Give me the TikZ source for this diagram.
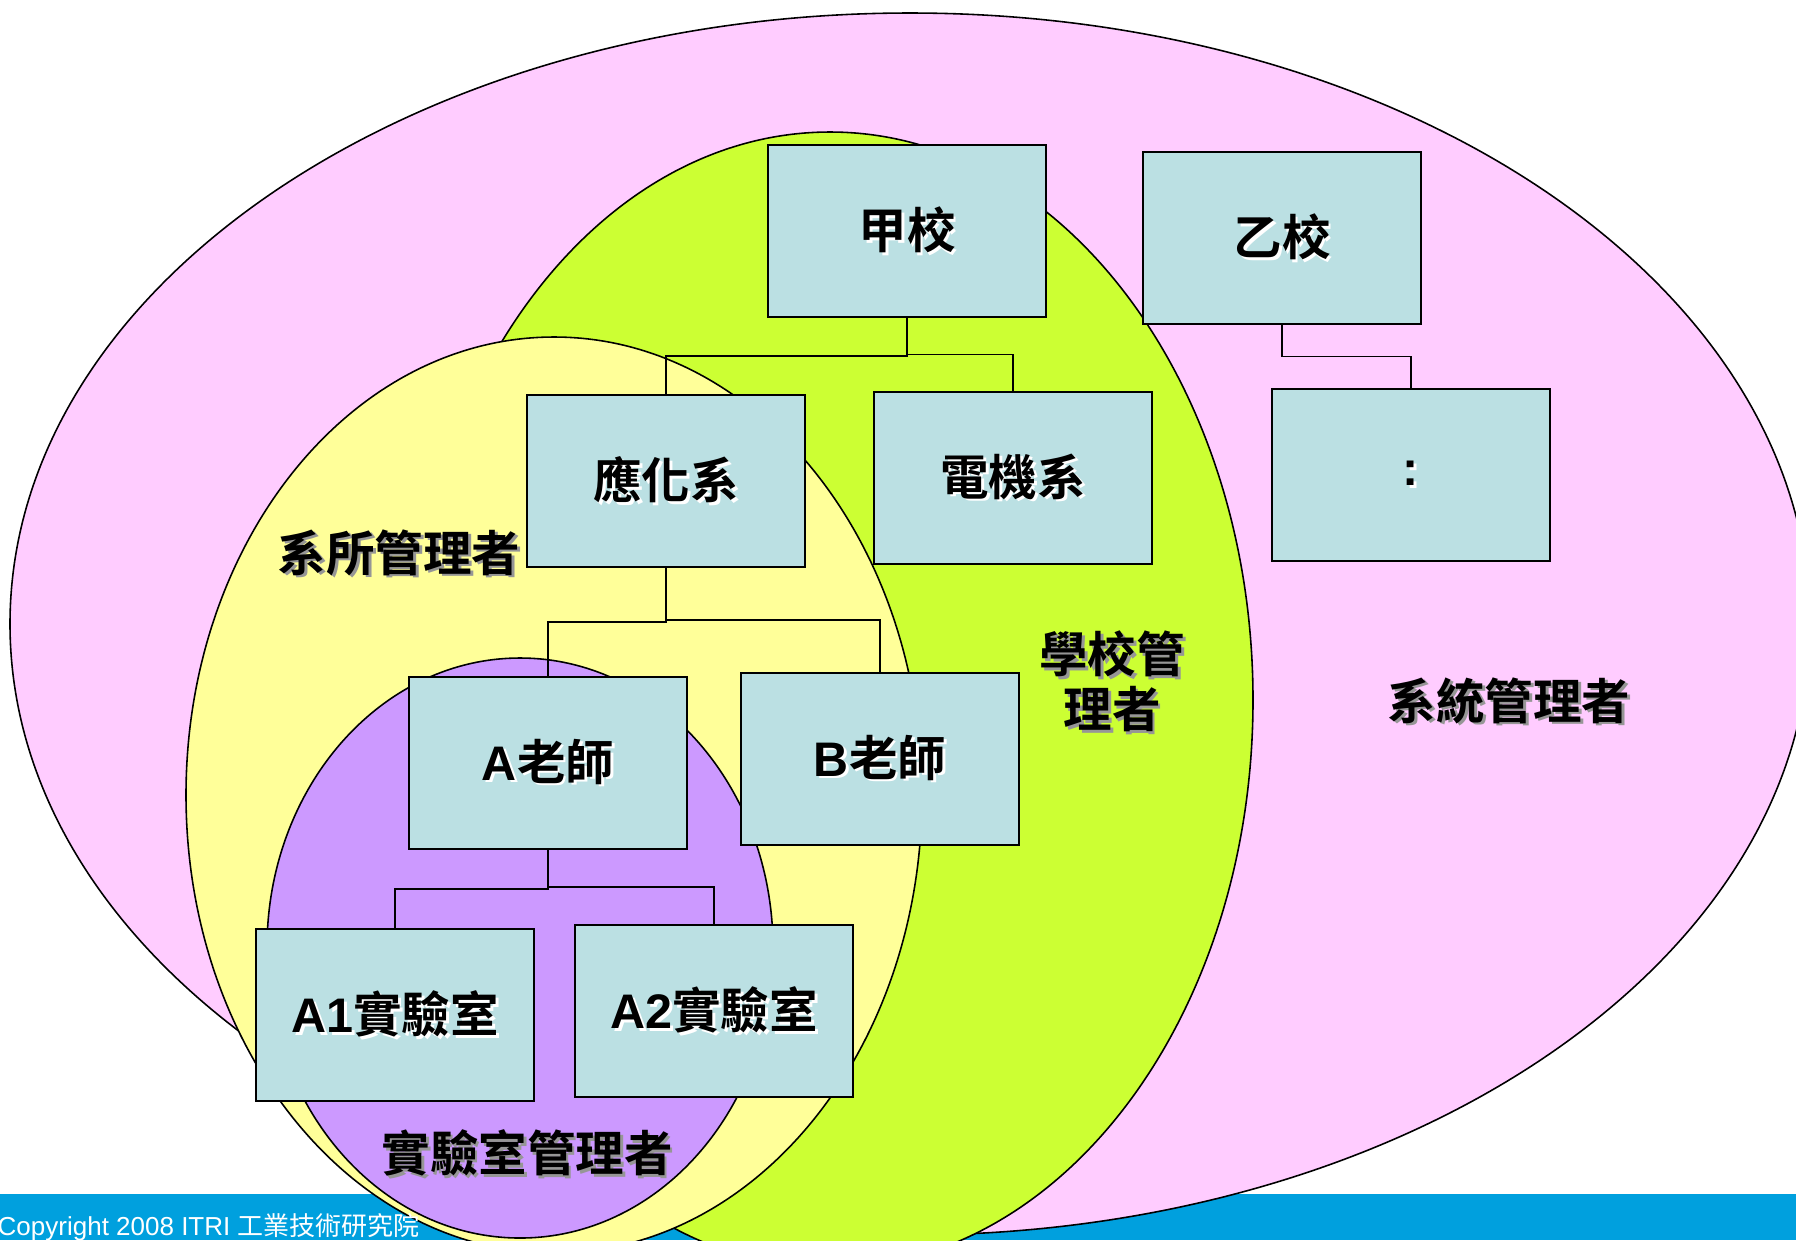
\documentclass[tikz,border=0pt]{standalone}
\usepackage{fontspec}
\setmainfont{Liberation Sans}
\newfontfamily\cjk{Noto Sans CJK TC}[BoldFont={Noto Sans CJK TC Bold}]
\usepackage{tikz}
\usetikzlibrary{calc}
\definecolor{syspink}{RGB}{255,204,255}
\definecolor{schoolgreen}{RGB}{204,255,51}
\definecolor{deptyellow}{RGB}{255,255,153}
\definecolor{labpurple}{RGB}{204,153,255}
\definecolor{unitcyan}{RGB}{187,224,227}
\definecolor{barblue}{RGB}{0,160,222}
\definecolor{shadowgray}{RGB}{150,150,150}
\newcommand{\zh}[1]{{\cjk #1}}
\newcommand{\shtext}[2]{\makebox[0pt][l]{\hspace{0.8pt}\raisebox{-0.8pt}{\textcolor{#1}{#2}}}#2}
\tikzstyle{area} = [draw, line width=0.45pt]
\tikzstyle{unit} = [draw, line width=0.6pt, fill=unitcyan, minimum width=2.78cm, minimum height=1.72cm, inner sep=0pt]
\tikzstyle{line} = [draw, line width=0.45pt]

\begin{document}
\begin{tikzpicture}
	\tikzstyle{every node}=[font=\bfseries\fontsize{13.8pt}{15.6pt}\selectfont]
	\useasboundingbox (0,0) rectangle (17.96,-12.40);
	\clip (0,0) rectangle (17.96,-12.40);
	
	% ------------------- Footer bar ------------------- %
	\fill[barblue] (0,-11.94) rectangle (17.96,-12.40);
	
	% ------------------- Areas ------------------- %
	\draw[area, fill=syspink] (9.10,-6.24) ellipse [x radius=9.00cm, y radius=6.11cm];
	\draw[area, fill=schoolgreen] (8.30,-7.00) ellipse [x radius=4.23cm, y radius=5.68cm];
	\draw[area, fill=deptyellow] (5.54,-7.95) ellipse [x radius=3.68cm, y radius=4.58cm];
	\draw[area, fill=labpurple] (5.20,-9.48) ellipse [x radius=2.53cm, y radius=2.90cm];
	
	\node[anchor=base west, inner sep=0pt, text=white, font=\fontsize{7.4pt}{9pt}\selectfont] (footer) at (-0.03,-12.35) {Copyright 2008 ITRI \zh{工業技術研究院}};
	
	% ------------------- Area labels ------------------- %
	\node (syslabel) at (15.09,-7.02) {\shtext{shadowgray}{\zh{系統管理者}}};
	\node[align=center] (schoollabel) at (11.12,-6.83) {\shtext{shadowgray}{\zh{學校管}}\\\shtext{shadowgray}{\zh{理者}}};
	\node (deptlabel) at (3.99,-5.54) {\shtext{shadowgray}{\zh{系所管理者}}};
	\node (lablabel) at (5.27,-11.54) {\shtext{shadowgray}{\zh{實驗室管理者}}};
	
	% ------------------- Units ------------------- %
	\node[unit] (jia) at (9.07,-2.31) {\shtext{white}{\zh{甲校}}};
	\node[unit] (yi) at (12.82,-2.38) {\shtext{white}{\zh{乙校}}};
	\node[unit] (yinghua) at (6.66,-4.81) {\shtext{white}{\zh{應化系}}};
	\node[unit] (dianji) at (10.13,-4.78) {\shtext{white}{\zh{電機系}}};
	\node[unit] (more) at (14.11,-4.75) {\shtext{white}{:}};
	\node[unit] (teachA) at (5.48,-7.63) {\shtext{white}{A\zh{老師}}};
	\node[unit] (teachB) at (8.80,-7.59) {\shtext{white}{B\zh{老師}}};
	\node[unit] (labA1) at (3.95,-10.15) {\shtext{white}{A1\zh{實驗室}}};
	\node[unit] (labA2) at (7.14,-10.11) {\shtext{white}{A2\zh{實驗室}}};
	
	% ------------------- Connectors ------------------- %
	\foreach \p/\c in {jia/yinghua, jia/dianji, yi/more, yinghua/teachA, yinghua/teachB, teachA/labA1, teachA/labA2}
		\draw[line] (\p.south) |- ($(\p.south)!.5!(\c.north)$) -| (\c.north);
	
\end{tikzpicture}
\end{document}
